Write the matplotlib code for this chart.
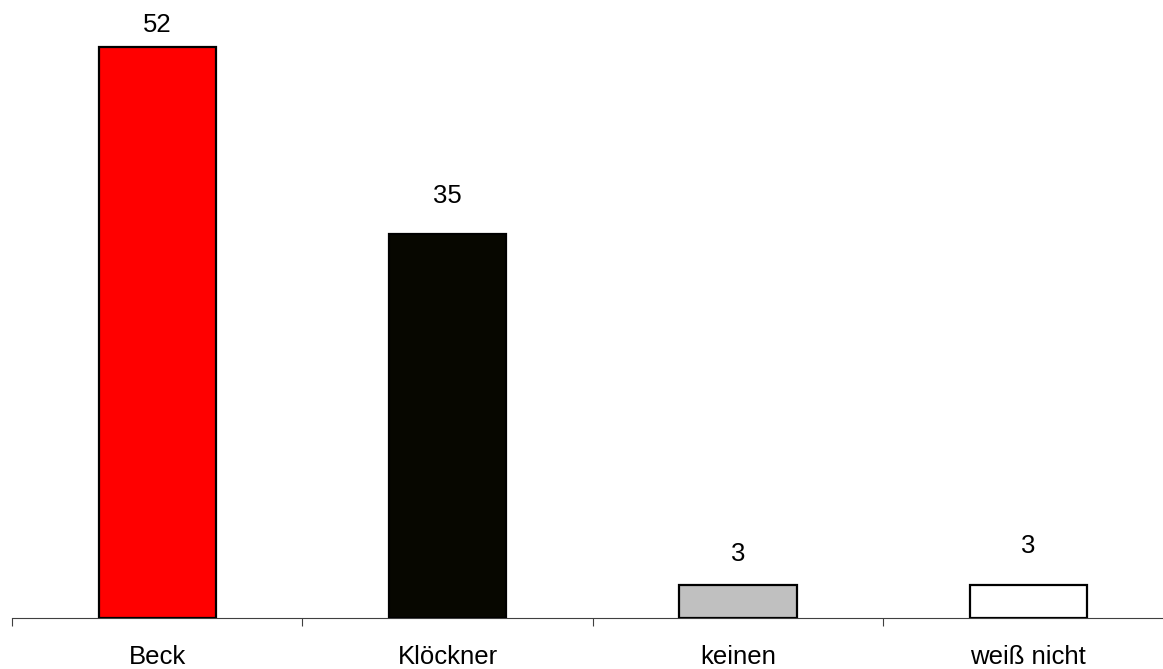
import matplotlib
matplotlib.use("Agg")
import matplotlib.pyplot as plt

categories = ["Beck", "Klöckner", "keinen", "weiß nicht"]
values = [52, 35, 3, 3]
colors = ["#ff0000", "#070700", "#c0c0c0", "#ffffff"]

# gap (px) between bar top and label baseline, as in the original
label_gap_px = [15, 31, 24, 32]

plt.rcParams["font.family"] = ["Liberation Sans", "DejaVu Sans"]

fig = plt.figure(figsize=(11.63, 6.69), dpi=100)
ax = fig.add_axes([12 / 1163, 51 / 669, 1161.6 / 1163, 618 / 669])

x = list(range(len(categories)))
ax.bar(x, values, width=0.403, color=colors, edgecolor="black", linewidth=1.6, zorder=3)

for xi, v, gap in zip(x, values, label_gap_px):
    ax.annotate(str(v), (xi, v), xytext=(0, gap * 0.72), textcoords="offset points",
                ha="center", va="baseline", fontsize=18.5)

ax.set_xlim(-0.5, 3.5)
ax.set_ylim(0, 56.28)

ax.set_xticks([i - 0.5 for i in range(len(categories) + 1)])
ax.set_xticklabels([])
ax.set_xticks(x, minor=True)
ax.set_xticklabels(categories, minor=True, fontsize=18.5)
ax.tick_params(axis="x", which="major", direction="out", length=6, width=0.8, color="#404040")
ax.tick_params(axis="x", which="minor", length=0, pad=19.5)
ax.set_yticks([])

for side in ["left", "top", "right"]:
    ax.spines[side].set_visible(False)
ax.spines["bottom"].set_color("#404040")
ax.spines["bottom"].set_linewidth(0.8)

fig.savefig("out.png", dpi=100)
